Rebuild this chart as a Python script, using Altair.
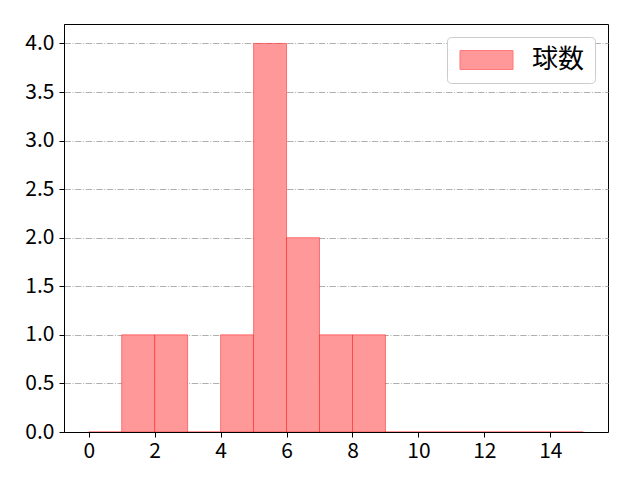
import altair as alt
import pandas as pd

# Histogram data (bins of width 1 from 0 to 15)
bin_start = [0, 1, 2, 3, 4, 5, 6, 7, 8, 9, 10, 11, 12, 13, 14]
bin_end = [1, 2, 3, 4, 5, 6, 7, 8, 9, 10, 11, 12, 13, 14, 15]
counts = [0, 1, 1, 0, 1, 4, 2, 1, 1, 0, 0, 0, 0, 0, 0]
series_name = "球数"
x_ticks = [0, 2, 4, 6, 8, 10, 12, 14]
y_ticks = [0.0, 0.5, 1.0, 1.5, 2.0, 2.5, 3.0, 3.5, 4.0]

df = pd.DataFrame({
    "start": bin_start,
    "end": bin_end,
    "count": counts,
    "series": [series_name] * len(bin_start),
})

FONT = "Noto Sans CJK JP"

chart = alt.Chart(df).mark_rect(
    stroke="#ff0000", strokeOpacity=0.45, strokeWidth=1, opacity=1
).encode(
    x=alt.X("start:Q",
            scale=alt.Scale(domain=[-0.75, 15.75], nice=False, zero=False),
            axis=alt.Axis(values=x_ticks, title=None, grid=False, format="d",
                          labelFontSize=21, labelFont=FONT, labelColor="black",
                          tickColor="black", tickSize=5, domainColor="black",
                          labelPadding=3, labelFlush=False, zindex=1)),
    x2="end:Q",
    y=alt.Y("count:Q",
            scale=alt.Scale(domain=[0, 4.2], nice=False, padding=0),
            axis=alt.Axis(values=y_ticks, title=None, format=".1f", grid=True,
                          gridDash=[6.4, 1.6, 1, 1.6], gridColor="#b0b0b0",
                          gridWidth=1, labelFontSize=21, labelFont=FONT,
                          labelColor="black", tickColor="black", tickSize=5,
                          domainColor="black", labelPadding=5)),
    y2=alt.datum(0),
    color=alt.Color("series:N",
                    scale=alt.Scale(range=["#ff9999"]),
                    legend=alt.Legend(
                        title=None, orient="none", legendX=383, legendY=13,
                        symbolType="M-1,-0.95H4.3V0.95H-1Z",
                        symbolSize=400, symbolStrokeColor="#ff7777",
                        symbolStrokeWidth=1, symbolOpacity=1,
                        labelFontSize=26, labelFont=FONT, labelColor="black",
                        labelOffset=49, padding=10, cornerRadius=4,
                        strokeColor="#cccccc", fillColor="white")),
).properties(
    width=544, height=408,
    autosize=alt.AutoSizeParams(type="none"),
    padding={"left": 56, "top": 16, "right": 24, "bottom": 40},
).configure_view(
    stroke="black", strokeWidth=1
)

chart.save("out.html", embed_options={"renderer": "svg", "actions": False})
